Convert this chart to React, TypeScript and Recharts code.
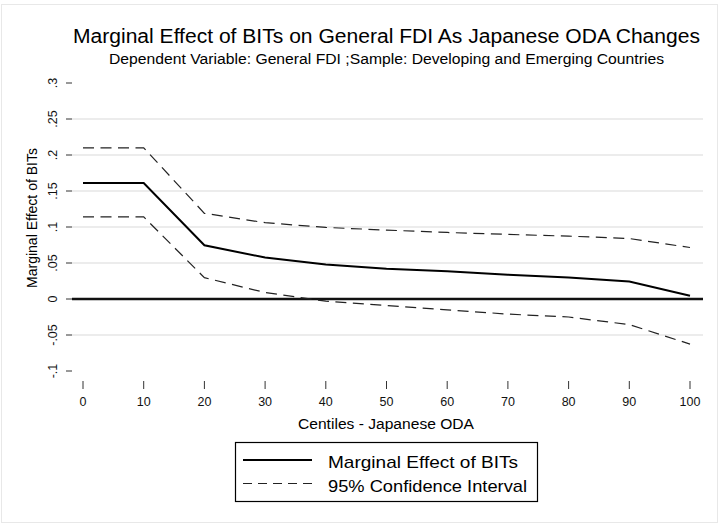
import { Line, LineChart, ReferenceLine, XAxis, YAxis } from 'recharts'

// Centiles of Japanese ODA (x) and the estimated effects
const centiles = [0, 10, 20, 30, 40, 50, 60, 70, 80, 90, 100]
const marginalEffect = [0.161, 0.161, 0.0747, 0.0575, 0.048, 0.042, 0.0384, 0.0338, 0.03, 0.0244, 0.0045]
const upperCI = [0.21, 0.21, 0.119, 0.106, 0.0994, 0.0957, 0.0924, 0.0897, 0.0873, 0.084, 0.0715]
const lowerCI = [0.114, 0.114, 0.0296, 0.009, -0.003, -0.009, -0.015, -0.021, -0.025, -0.0356, -0.0626]

const yTicks = [-0.1, -0.05, 0, 0.05, 0.1, 0.15, 0.2, 0.25, 0.3]
const yTickLabels = ['-.1', '-.05', '0', '.05', '.1', '.15', '.2', '.25', '.3']
const gridValues = [-0.05, 0.05, 0.1, 0.15, 0.2, 0.25]

const seriesNames = ['Marginal Effect of  BITs', '95% Confidence Interval']

const data = centiles.map((c, i) => ({
  centile: c,
  me: marginalEffect[i],
  hi: upperCI[i],
  lo: lowerCI[i],
}))

const FONT = '"Liberation Sans Narrow", "Liberation Sans", Arial, Helvetica, sans-serif'
const DASH = '11 6.5'

function YTick(props: any) {
  const { x, y, payload } = props
  const idx = yTicks.indexOf(payload.value)
  const bx = x - 7
  return (
    <text
      x={bx}
      y={y}
      transform={`rotate(-90, ${bx}, ${y})`}
      textAnchor='middle'
      fontSize={12.5}
      fontFamily={FONT}
      fill='#111'
    >
      {idx >= 0 ? yTickLabels[idx] : payload.value}
    </text>
  )
}

function XTick(props: any) {
  const { x, y, payload } = props
  return (
    <text x={x} y={y + 15} textAnchor='middle' fontSize={12.5} fontFamily={FONT} fill='#111'>
      {payload.value}
    </text>
  )
}

export default function App() {
  return (
    <div style={{ position: 'absolute', left: 0, top: 0, width: 720, height: 525, background: '#fff' }}>
      <LineChart
        width={720}
        height={525}
        data={data}
        margin={{ top: 73, right: 17, bottom: 104, left: 0 }}
      >
        {gridValues.map((v) => (
          <ReferenceLine key={v} y={v} stroke='#e6e6e6' strokeWidth={1.5} />
        ))}
        <XAxis
          dataKey='centile'
          type='number'
          domain={[0, 100]}
          ticks={centiles}
          padding={{ left: 11, right: 13 }}
          axisLine={false}
          tickLine={{ stroke: '#333' }}
          tickSize={8}
          height={40}
          tick={<XTick />}
          interval={0}
        />
        <YAxis
          type='number'
          domain={[-0.1, 0.3]}
          ticks={yTicks}
          padding={{ top: 10, bottom: 10 }}
          axisLine={false}
          tickLine={{ stroke: '#333' }}
          tickSize={6}
          width={72}
          tick={<YTick />}
          interval={0}
        />
        <ReferenceLine y={0} stroke='#111' strokeWidth={2.5} />
        <Line
          type='linear'
          dataKey='hi'
          stroke='#222'
          strokeWidth={1.2}
          strokeDasharray={DASH}
          dot={false}
          isAnimationActive={false}
        />
        <Line
          type='linear'
          dataKey='lo'
          stroke='#222'
          strokeWidth={1.2}
          strokeDasharray={DASH}
          dot={false}
          isAnimationActive={false}
        />
        <Line
          type='linear'
          dataKey='me'
          stroke='#000'
          strokeWidth={2}
          dot={false}
          isAnimationActive={false}
        />
      </LineChart>

      <svg
        width={720}
        height={525}
        style={{ position: 'absolute', left: 0, top: 0, pointerEvents: 'none' }}
        fontFamily={FONT}
      >
        <rect x={1.5} y={4.5} width={716} height={518} fill='none' stroke='#e8e8e8' />
        <text x={73} y={43} fontSize={19.5} textLength={627} lengthAdjust='spacingAndGlyphs' fill='#000'>
          Marginal Effect of BITs on General FDI As Japanese ODA Changes
        </text>
        <text x={109} y={64} fontSize={14} textLength={555} lengthAdjust='spacingAndGlyphs' fill='#000'>
          Dependent Variable: General FDI ;Sample: Developing and Emerging Countries
        </text>
        <text
          x={37}
          y={218}
          transform='rotate(-90, 37, 218)'
          textAnchor='middle'
          fontSize={15.5}
          textLength={140}
          lengthAdjust='spacingAndGlyphs'
          fill='#000'
        >
          Marginal Effect of BITs
        </text>
        <text x={386} y={429} textAnchor='middle' fontSize={15.5} textLength={176} lengthAdjust='spacingAndGlyphs' fill='#000'>
          Centiles - Japanese ODA
        </text>

        <rect x={235.5} y={442.5} width={302} height={59} fill='#fff' stroke='#000' strokeWidth={1.2} />
        <line x1={243} x2={312} y1={460} y2={460} stroke='#000' strokeWidth={2} />
        <line x1={243} x2={312} y1={483.5} y2={483.5} stroke='#222' strokeWidth={1.2} strokeDasharray='9 6' />
        <text x={328} y={468} fontSize={17} textLength={190} lengthAdjust='spacingAndGlyphs' fill='#000'>
          {seriesNames[0]}
        </text>
        <text x={328} y={492} fontSize={17} textLength={199} lengthAdjust='spacingAndGlyphs' fill='#000'>
          {seriesNames[1]}
        </text>
      </svg>
    </div>
  )
}
